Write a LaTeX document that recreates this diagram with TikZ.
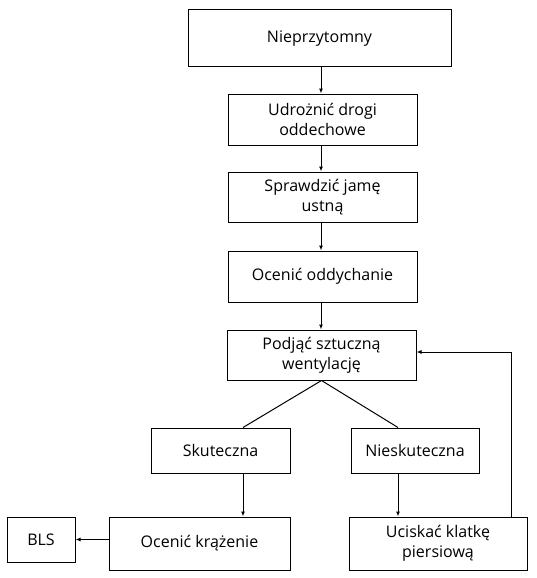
\documentclass[tikz,border=0pt]{standalone}
\usepackage{fontspec}
\setmainfont{Open Sans}
\usetikzlibrary{arrows.meta}
\begin{document}
\begin{tikzpicture}[x=1pt,y=-1pt,
  box/.style={draw,line width=1pt,align=center,inner sep=0pt,font=\fontsize{16}{20}\selectfont},
  arr/.style={line width=1pt,-{Latex[length=5pt,width=4pt]}},
  ln/.style={line width=1pt}]
\useasboundingbox (0,0) rectangle (537,578);
\node[box,minimum width=263pt,minimum height=57pt] (b1) at (319.5,38.5) {Nieprzytomny};
\node[box,minimum width=189pt,minimum height=51pt] (b2) at (322.5,119.5) {Udrożnić drogi\\oddechowe};
\node[box,minimum width=189pt,minimum height=50pt] (b3) at (322.5,197) {Sprawdzić jamę\\ustną};
\node[box,minimum width=189pt,minimum height=51pt] (b4) at (322.5,276.5) {Ocenić oddychanie};
\node[box,minimum width=189pt,minimum height=50pt] (b5) at (321.5,355) {Podjąć sztuczną\\wentylację};
\node[box,minimum width=139pt,minimum height=45pt] (sk) at (220.5,450.5) {Skuteczna};
\node[box,minimum width=128pt,minimum height=45pt] (ns) at (415,450.5) {Nieskuteczna};
\node[box,minimum width=68pt,minimum height=45pt] (bls) at (41,539.5) {BLS};
\node[box,minimum width=181pt,minimum height=53pt] (ok) at (199.5,543.5) {Ocenić krążenie};
\node[box,minimum width=178pt,minimum height=53pt] (uk) at (438,543.5) {Uciskać klatkę\\piersiową};
\draw[arr] ([xshift=1.5pt]b1.south) -- ([xshift=1.5pt]b1.south |- b2.north);
\draw[arr] ([xshift=-1.5pt]b2.south) -- ([xshift=-1.5pt]b2.south |- b3.north);
\draw[arr] ([xshift=-1.5pt]b3.south) -- ([xshift=-1.5pt]b3.south |- b4.north);
\draw[arr] ([xshift=-1.5pt]b4.south) -- ([xshift=-1.5pt]b4.south |- b5.north);
\draw[ln] (b5.south) -- ([xshift=22.5pt]sk.north);
\draw[ln] (b5.south) -- ([xshift=-17pt]ns.north);
\draw[arr] ([xshift=22.5pt]sk.south) -- ([xshift=22.5pt]sk.south |- ok.north);
\draw[arr] ([xshift=-17pt]ns.south) -- ([xshift=-17pt]ns.south |- uk.north);
\draw[arr] (ok.west |- bls.east) -- (bls.east);
\draw[arr] ([xshift=73pt]uk.north) |- ([yshift=3pt]b5.east);
\end{tikzpicture}
\end{document}
